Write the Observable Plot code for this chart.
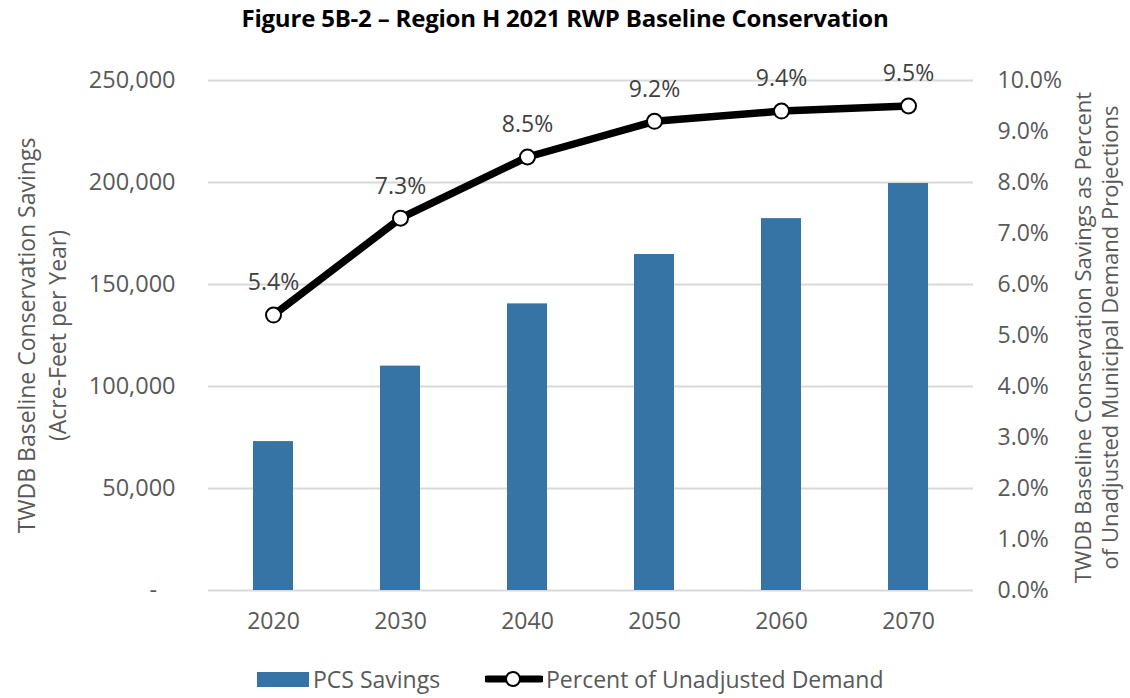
<!DOCTYPE html>
<html>
<head>
<meta charset="utf-8">
<script src="https://cdn.jsdelivr.net/npm/d3@7"></script>
<script src="https://cdn.jsdelivr.net/npm/@observablehq/plot@0.6"></script>
<style>
  html, body { margin: 0; padding: 0; background: #fff; }
  body { width: 1130px; height: 698px; position: relative; overflow: hidden; font-family: "Open Sans", sans-serif; }
  #title { height: 40px; line-height: 36px; text-align: center; font-weight: bold; font-size: 24px; color: #000; letter-spacing: -0.2px; }
  #legend { position: relative; height: 38px; font-size: 23px; color: #595959; }
  #legend .item { position: absolute; top: 0; height: 38px; display: flex; align-items: center; }
  #legend .sw { display: inline-block; width: 52px; height: 15px; background: #3674a5; margin-right: 4px; }
</style>
</head>
<body>
<div id="title">Figure 5B-2 – Region H 2021 RWP Baseline Conservation</div>
<div id="chart"></div>
<div id="legend">
  <div class="item" style="left:257px"><span class="sw"></span><span>PCS Savings</span></div>
  <div class="item" style="left:485px">
    <svg width="58" height="20" style="margin-right:3px">
      <line x1="2" y1="10" x2="56" y2="10" stroke="#000" stroke-width="7" stroke-linecap="round"></line>
      <circle cx="28" cy="10" r="7" fill="#fff" stroke="#000" stroke-width="2"></circle>
    </svg>
    <span>Percent of Unadjusted Demand</span>
  </div>
</div>
<script>
const years = ["2020", "2030", "2040", "2050", "2060", "2070"];
const savings = [73000, 110000, 140500, 164700, 182300, 199500];
const percent = [5.4, 7.3, 8.5, 9.2, 9.4, 9.5];
const leftTicks = [0, 50000, 100000, 150000, 200000, 250000];
const rightTicks = [0, 1, 2, 3, 4, 5, 6, 7, 8, 9, 10];
const yMax = 250000;
const pctMax = 10;
const toY = p => p / pctMax * yMax;

const data = years.map((y, i) => ({year: y, savings: savings[i], pct: percent[i]}));
const gray = "#595959";

const chart = Plot.plot({
  width: 1130,
  height: 620,
  marginTop: 40,
  marginBottom: 70,
  marginLeft: 208,
  marginRight: 157,
  style: {fontFamily: "'Open Sans', sans-serif", fontSize: "23px", color: gray, background: "#fff", overflow: "visible"},
  x: {domain: years, paddingInner: 0.686, paddingOuter: 0.343, label: null},
  y: {domain: [0, yMax], label: null},
  marks: [
    Plot.gridY(leftTicks, {stroke: "#d9d9d9", strokeOpacity: 1, strokeWidth: 2}),
    Plot.barY(data, {x: "year", y: "savings", fill: "#3674a5"}),
    Plot.line(data, {x: "year", y: d => toY(d.pct), stroke: "#000", strokeWidth: 7.5, strokeLinejoin: "round", curve: "linear"}),
    Plot.dot(data, {x: "year", y: d => toY(d.pct), r: 7.5, fill: "#fff", stroke: "#000", strokeWidth: 2}),
    Plot.text(data, {x: "year", y: d => toY(d.pct), text: d => d.pct.toFixed(1) + "%", dy: -32, fill: "#404040", fontSize: 23}),
    Plot.axisX({tickSize: 0, tickPadding: 22, label: null, fontSize: 23, fill: gray}),
    Plot.axisY({anchor: "left", ticks: leftTicks, tickSize: 0, tickPadding: 33, label: null, fill: gray, fontSize: 23.5,
      tickFormat: d => d === 0 ? "-\u00a0\u00a0\u00a0" : d3.format(",")(d)}),
    Plot.axisY({anchor: "right", ticks: rightTicks.map(toY), tickSize: 0, tickPadding: 24, label: null, fill: gray,
      tickFormat: d => (d / yMax * pctMax).toFixed(1) + "%"}),
    Plot.text(["TWDB Baseline Conservation Savings\n(Acre-Feet per Year)"], {frameAnchor: "left", textAnchor: "middle", rotate: -90, dx: -168, dy: 0, fill: gray, fontSize: 23, lineHeight: 1.35}),
    Plot.text(["TWDB Baseline Conservation Savings as Percent\nof Unadjusted Municipal Demand Projections"], {frameAnchor: "right", textAnchor: "middle", rotate: -90, dx: 122, dy: 2, fill: gray, fontSize: 22, lineHeight: 1.25})
  ]
});
document.getElementById("chart").appendChild(chart);
</script>
</body>
</html>
